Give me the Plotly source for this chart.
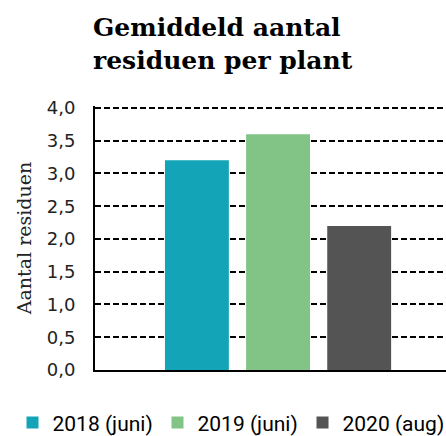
import plotly.graph_objects as go

categories = ["2018 (juni)", "2019 (juni)", "2020 (aug)"]
values = [3.2, 3.6, 2.2]
colors = ["#13A5B7", "#82C386", "#545454"]
tick_vals = [0, 0.5, 1.0, 1.5, 2.0, 2.5, 3.0, 3.5, 4.0]
tick_text = ["0,0", "0,5", "1,0", "1,5", "2,0", "2,5", "3,0", "3,5", "4,0"]

fig = go.Figure()
for c, v, col in zip(categories, values, colors):
    fig.add_trace(go.Bar(x=[c], y=[v], name=c, marker=dict(color=col, line=dict(width=0)),
                         width=0.7875))

fig.update_layout(
    width=446, height=436,
    margin=dict(l=95, r=0, t=106, b=66, autoexpand=False),
    paper_bgcolor="white", plot_bgcolor="white",
    barmode="overlay",
    showlegend=True,
    legend=dict(orientation="h", xref="paper", yref="paper",
                x=-0.235, xanchor="left", y=-0.2, yanchor="middle",
                font=dict(family="Roboto", size=21, color="black"),
                entrywidth=100, entrywidthmode="pixels",
                itemclick=False, itemdoubleclick=False),
    font=dict(family="DejaVu Sans", color="black"),
    annotations=[dict(text="<b>Gemiddeld aantal<br>residuen per plant</b>",
                      font=dict(family="DejaVu Serif", size=25, color="black"),
                      xref="paper", yref="paper", x=-0.01, y=1.36,
                      xanchor="left", yanchor="top", align="left", showarrow=False)],
)
fig.update_xaxes(type="category", categoryorder="array", categoryarray=categories,
                 range=[-1.256, 3.07], showticklabels=False, showgrid=False,
                 showline=True, linecolor="black", linewidth=2, ticks="", zeroline=False)
fig.update_yaxes(range=[0, 4.03], tickvals=tick_vals, ticktext=tick_text,
                 tickfont=dict(family="DejaVu Sans", size=18, color="#222"),
                 ticklabelstandoff=14,
                 showgrid=True, gridcolor="black", gridwidth=1.5, griddash="6px,3px",
                 showline=True, linecolor="black", linewidth=2, zeroline=False, ticks="",
                 title=dict(text="Aantal residuen", standoff=10,
                            font=dict(family="DejaVu Serif", size=19, color="#222")))

fig.write_html("out.html", config={"displayModeBar": False},
               post_script="document.body.style.margin='0';")
